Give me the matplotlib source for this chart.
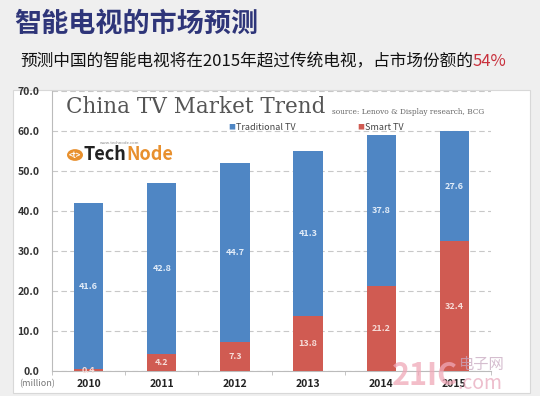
import matplotlib.pyplot as plt
from matplotlib.patches import Rectangle, Circle
import numpy as np

plt.rcParams['font.family'] = ['Noto Sans CJK SC', 'DejaVu Sans']

years = ['2010', '2011', '2012', '2013', '2014', '2015']
smart_tv = [0.4, 4.2, 7.3, 13.8, 21.2, 32.4]
traditional_tv = [41.6, 42.8, 44.7, 41.3, 37.8, 27.6]
yticks = [0, 10, 20, 30, 40, 50, 60, 70]

blue = '#4f86c4'
red = '#d05b52'

fig = plt.figure(figsize=(5.4, 3.96), dpi=100)
fig.patch.set_facecolor('#efefef')

# white chart panel
fig.patches.append(Rectangle((13/540, 1-393/396), 517/540, 303/396, transform=fig.transFigure,
                             facecolor='white', edgecolor='#d8d8d8', lw=0.8, zorder=-1))

# headings
fig.text(14/540, 1-24/396, '智能电视的市场预测', fontsize=19.5, fontweight='bold', color='#2e3579', va='center')
sub = fig.text(20/540, 1-62/396, '预测中国的智能电视将在2015年超过传统电视，占市场份额的', fontsize=12, color='#111111', va='center')
fig.canvas.draw()
bb = sub.get_window_extent()
fig.text(bb.x1/540, 1-62/396, '54%', fontsize=12, color='#c8303c', va='center')

ax = fig.add_axes([52/540, 1-371/396, 439/540, 280/396])
ax.set_facecolor('none')
x = np.arange(len(years))
w = 0.4
ax.bar(x, smart_tv, w, color=red, zorder=3)
ax.bar(x, traditional_tv, w, bottom=smart_tv, color=blue, zorder=3)

for i in range(len(years)):
    ax.text(x[i], smart_tv[i]/2, '%.1f' % smart_tv[i], ha='center', va='center', fontsize=6.5,
            color='#f6dcd8', fontweight='bold', zorder=4)
    ax.text(x[i], smart_tv[i] + traditional_tv[i]/2, '%.1f' % traditional_tv[i], ha='center', va='center',
            fontsize=6.5, color='#e2ecf8', fontweight='bold', zorder=4)

ax.set_xlim(-0.5, 5.5)
ax.set_ylim(0, 70)
ax.set_yticks(yticks)
ax.set_yticklabels(['%.1f' % v for v in yticks], fontsize=7.5, color='#333333', fontweight='bold')
ax.set_xticks(x)
ax.set_xticklabels(years, fontsize=7.5, color='#222222', fontweight='bold')
ax.set_xticks(np.arange(-0.5, 6, 1), minor=True)
ax.tick_params(axis='x', which='major', length=0, pad=6)
ax.tick_params(axis='x', which='minor', length=3, color='#bbbbbb')
ax.tick_params(axis='y', length=0, pad=9)
ax.yaxis.grid(True, linestyle=(0, (5, 3)), color='#c8c8c8', lw=0.8, zorder=0)
for s in ['top', 'right']:
    ax.spines[s].set_visible(False)
ax.spines['left'].set_color('#bbbbbb')
ax.spines['bottom'].set_color('#bbbbbb')
ax.text(-0.035, -0.03, '(million)', transform=ax.transAxes, fontsize=6.5, color='#777777', ha='center', va='top')

# inner chart title and source
fig.text(66/540, 1-107/396, 'China TV Market Trend', fontsize=15.5, color='#555555', family='DejaVu Serif', va='center')
fig.text(332/540, 1-112/396, 'source: Lenovo & Display research, BCG', fontsize=5.3, color='#666666',
         family='DejaVu Serif', va='center')

# legend
fig.text(228/540, 1-127/396, '■', fontsize=5, color=blue, va='center')
fig.text(236/540, 1-127/396, 'Traditional TV', fontsize=6.5, color='#444444', va='center')
fig.text(357/540, 1-127/396, '■', fontsize=5, color=red, va='center')
fig.text(365/540, 1-127/396, 'Smart TV', fontsize=6.5, color='#444444', va='center')

# TechNode logo
fig.patches.append(Circle((75/540, 1-155/396), 8/540, transform=fig.transFigure, facecolor='#e8902e',
                          edgecolor='none', zorder=5))
fig.text(75/540, 1-155/396, '<t>', fontsize=5.5, color='white', fontweight='bold', ha='center', va='center', zorder=6)
fig.text(84/540, 1-155/396, 'Tech', fontsize=13, color='#222222', fontweight='bold', va='center')
fig.text(126/540, 1-155/396, 'Node', fontsize=13, color='#e8902e', fontweight='bold', va='center')
fig.text(100/540, 1-143/396, 'www.technode.com', fontsize=3, color='#888888', va='center')

# watermark
fig.text(392/540, 1-392/396, '21IC', fontsize=22, color='#f0a8b8', fontweight='bold', alpha=0.75,
         va='bottom', zorder=10)
fig.text(458/540, 1-373/396, '电子网', fontsize=11, color='#c8a8c0', alpha=0.75, va='bottom', zorder=10)
fig.text(458/540, 1-394/396, '.com', fontsize=14, color='#e8a8bc', style='italic', alpha=0.75,
         va='bottom', zorder=10)

fig.savefig('out.png', dpi=100, facecolor=fig.get_facecolor())
